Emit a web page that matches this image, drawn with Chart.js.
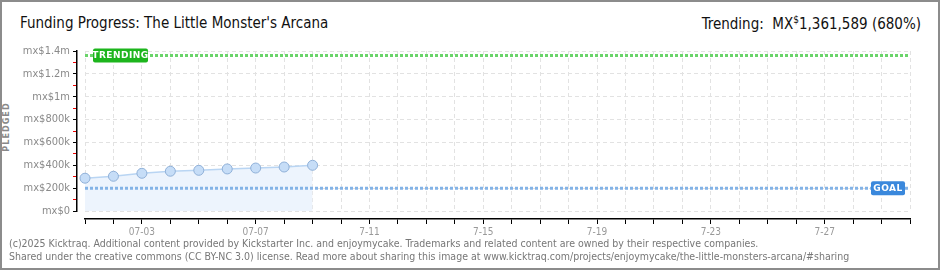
<!DOCTYPE html>
<html>
<head>
<meta charset="utf-8">
<script src="https://cdn.jsdelivr.net/npm/chart.js@4.4.1/dist/chart.umd.min.js"></script>
<style>
  body { margin: 0; background: #fff; }
  #box { position: relative; width: 940px; height: 270px; box-sizing: border-box; border: 2px solid #8c8c8c; overflow: hidden; font-family: "DejaVu Sans Condensed", "DejaVu Sans", sans-serif; }
  #title { position: absolute; left: 18px; top: 12px; font-size: 15px; color: #111; }
  #trend { position: absolute; right: 17px; top: 12px; font-size: 15px; color: #111; }
  #trend sup { font-size: 10px; }
  #ytitle { position: absolute; left: -21px; top: 120px; transform: rotate(-90deg); font-size: 9px; font-weight: bold; color: #888; letter-spacing: 1px; }
  #foot { position: absolute; left: 7px; top: 235px; font-size: 10.5px; line-height: 13px; color: #777; }
  #wrap { position: absolute; left: -2px; top: 28px; width: 940px; height: 213px; }
</style>
</head>
<body>
<div id="box">
  <div id="title">Funding Progress: The Little Monster's Arcana</div>
  <div id="trend">Trending:&nbsp; MX<sup>$</sup>1,361,589 (680%)</div>
  <div id="ytitle">PLEDGED</div>
  <div id="wrap"><canvas id="fundingChart"></canvas></div>
  <div id="foot">(c)2025 Kicktraq. Additional content provided by Kickstarter Inc. and enjoymycake. Trademarks and related content are owned by their respective companies.<br>Shared under the creative commons (CC BY-NC 3.0) license. Read more about sharing this image at www.kicktraq.com/projects/enjoymycake/the-little-monsters-arcana/#sharing</div>
</div>
<script>
// days shown on the x axis (07-01 .. 07-30)
var days = ['07-01','07-02','07-03','07-04','07-05','07-06','07-07','07-08','07-09','07-10',
            '07-11','07-12','07-13','07-14','07-15','07-16','07-17','07-18','07-19','07-20',
            '07-21','07-22','07-23','07-24','07-25','07-26','07-27','07-28','07-29','07-30']
var dayTickLabels = ['','','07-03','','','','07-07','','','','7-11','','','','7-15','','','',
                     '7-19','','','','7-23','','','','7-27','','','']
// pledged per day (MX$)
var pledged = [287000, 304000, 330000, 348000, 356000, 368000, 376000, 385000, 400000]
var goal = 200000
var trending = 1361589
var yTickLabels = ['mx$0','mx$200k','mx$400k','mx$600k','mx$800k','mx$1m','mx$1.2m','mx$1.4m']

var lineLabels = {
    id: 'lineLabels',
    afterDatasetsDraw: function(chart){
        var ctx = chart.ctx
        var area = chart.chartArea
        var y = chart.scales.y
        function tag(text, x, val, w, color){
            var py = y.getPixelForValue(val)
            ctx.save()
            ctx.fillStyle = color
            ctx.beginPath()
            ctx.roundRect(x, py - 7, w, 14, 2)
            ctx.fill()
            ctx.fillStyle = '#fff'
            ctx.font = 'bold 9px "DejaVu Sans", sans-serif'
            ctx.textBaseline = 'middle'
            ctx.textAlign = 'center'
            ctx.letterSpacing = '0.5px'
            ctx.fillText(text, x + w / 2, py + 0.5)
            ctx.restore()
        }
        tag('TRENDING', area.left + 8, trending, 55, '#1db51d')
        tag('GOAL', area.right - 39, goal, 34, '#3a88dc')
    }
}

var fundingChart = new Chart(document.getElementById('fundingChart'), {
    type: 'line',
    plugins: [lineLabels],
    data: {
        labels: days,
        datasets: [{
            label: 'Pledged',
            data: pledged,
            borderColor: '#b9d5f3',
            borderWidth: 1.5,
            backgroundColor: '#edf4fd',
            fill: 'origin',
            pointRadius: 5,
            pointBackgroundColor: '#c6ddf7',
            pointBorderColor: '#8fb0d8',
            pointBorderWidth: 1,
            tension: 0,
            clip: false,
            order: 2
        }, {
            label: 'Goal',
            data: [{x: days[0], y: goal}, {x: days[days.length - 1], y: goal}],
            borderColor: '#84b3e6',
            borderWidth: 3,
            borderDash: [3, 2],
            pointRadius: 0,
            fill: false,
            order: 0
        }, {
            label: 'Trending',
            data: [{x: days[0], y: trending}, {x: days[days.length - 1], y: trending}],
            borderColor: '#6ad46a',
            borderWidth: 3,
            borderDash: [3, 2],
            pointRadius: 0,
            fill: false,
            order: 1
        }]
    },
    options: {
        responsive: true,
        maintainAspectRatio: false,
        animation: false,
        layout: { padding: { top: 21, right: 30, left: 0, bottom: 0 } },
        plugins: { legend: { display: false }, tooltip: { enabled: false } },
        scales: {
            x: {
                type: 'category',
                offset: false,
                position: 'bottom',
                weight: 0,
                ticks: { display: false },
                grid: { color: '#e2e2e2', drawTicks: false },
                border: { display: false, dash: [4, 3] },
                afterFit: function(s){ s.height = 8 }
            },
            x2: {
                type: 'category',
                labels: days,
                offset: false,
                position: 'bottom',
                weight: 1,
                grid: { drawOnChartArea: false, tickLength: 5, tickColor: '#000', lineWidth: 1 },
                border: { display: true, color: '#000', width: 1.5 },
                ticks: {
                    autoSkip: false, maxRotation: 0, padding: 2,
                    color: '#999', font: { size: 10, family: '"DejaVu Sans Condensed", sans-serif' },
                    callback: function(v, i){ return dayTickLabels[i] }
                },
                afterFit: function(s){ s.height = 24 }
            },
            y: {
                min: 0, max: 1400000,
                position: 'left',
                weight: 0,
                ticks: { display: false, stepSize: 100000 },
                grid: {
                    drawTicks: false,
                    color: function(c){ return c.tick && c.tick.value % 200000 === 0 ? '#e2e2e2' : 'rgba(0,0,0,0)' }
                },
                border: { display: false, dash: [4, 3] },
                afterFit: function(s){ s.width = 8 }
            },
            y2: {
                min: 0, max: 1400000,
                position: 'left',
                weight: 1,
                grid: {
                    drawOnChartArea: false, tickLength: 4,
                    tickColor: function(c){ return c.tick && c.tick.value % 200000 === 0 ? '#000' : '#e00' }
                },
                border: { display: true, color: '#000', width: 1.5 },
                ticks: {
                    stepSize: 100000, padding: 3, autoSkip: false,
                    color: '#8a8a8a', font: { size: 11, family: '"DejaVu Sans Condensed", sans-serif' },
                    callback: function(v){ return v % 200000 === 0 ? yTickLabels[v / 200000] : '' }
                },
                afterFit: function(s){ s.width = 77 }
            }
        }
    }
})
</script>
</body>
</html>
